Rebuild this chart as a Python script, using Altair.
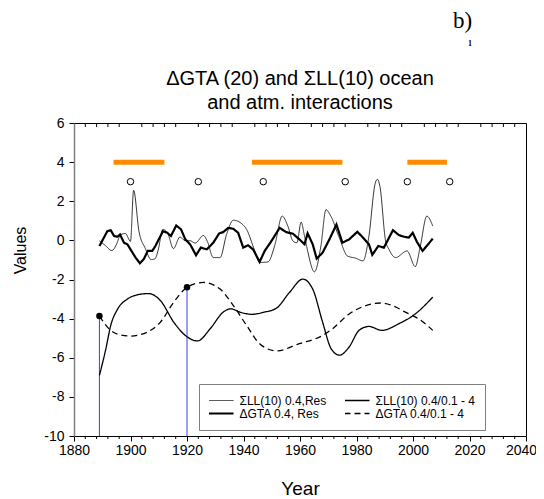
import altair as alt
import pandas as pd

FONT = "Liberation Sans"

# ---- series names (legend order: columns are filled top to bottom) ----
S_THIN = "ΣLL(10) 0.4,Res"
S_SMOOTH = "ΣLL(10) 0.4/0.1 - 4"
S_THICK = "ΔGTA 0.4, Res"
S_DASH = "ΔGTA 0.4/0.1 - 4"
SERIES = [S_THIN, S_THICK, S_SMOOTH, S_DASH]
DASHES = [[1, 0], [1, 0], [1, 0], [6, 4]]

TITLE_LINES = ["ΔGTA (20) and ΣLL(10) ocean", "and atm. interactions"]
PANEL_LABEL = "b)"

# ---- ΔGTA 0.4, Res (thick noisy line) ----
gta_res_years = [1889, 1891.8, 1893, 1894.2, 1895.4, 1896.3, 1897.7, 1898.9, 1900, 1901.8,
                 1903.3, 1904.7, 1906.1, 1907.7, 1908.8, 1910, 1911.5, 1913, 1914.3, 1916.2,
                 1917.9, 1919.4, 1921.1, 1923.2, 1924.9, 1927, 1929.3, 1931.4, 1932.8, 1934.6,
                 1936.4, 1938.1, 1939.9, 1941.6, 1943.4, 1945.7, 1947.5, 1949.9, 1952.8, 1955.1,
                 1957.5, 1959.8, 1961.6, 1962.7, 1964.5, 1965.9, 1968, 1970.4, 1972.9, 1975,
                 1977.4, 1980.3, 1982.3, 1984.4, 1985.6, 1987.7, 1989.7, 1992.9, 1995, 1996.7,
                 1998.5, 1999.9, 2001.4, 2003.4, 2007]
gta_res_values = [-0.29, 0.47, 0.52, 0.22, 0.19, 0.3, -0.12, -0.2, -0.46, -0.88,
                  -1.17, -0.96, -0.54, -0.54, -0.29, 0.05, 0.47, 0.39, 0.22, 0.76,
                  0.56, 0.05, -0.2, -0.76, -0.37, -0.46, -0.12, 0.36, 0.42, 0.64,
                  0.59, 0.39, -0.37, -0.25, -0.46, -1.1, -0.54, -0.03, 0.64, 0.42,
                  0.34, 0.05, -0.2, 0.36, -0.2, -0.93, -0.63, 0.05, 0.81, -0.12,
                  0.05, 0.44, 0.14, -0.2, -0.74, -0.29, -0.37, 0.52, 0.27, 0.19,
                  0.14, 0.39, -0.08, -0.54, 0.09]

# ---- ΣLL(10) 0.4,Res (thin noisy line) ----
ll_res_years = [1889, 1891, 1893.4, 1895.2, 1896.4, 1898.2, 1900, 1901.1, 1903, 1905.2,
                1907.3, 1908.6, 1909.8, 1911.4, 1913.2, 1915.2, 1917.5, 1919.4, 1921.1, 1922.9,
                1925.8, 1927.2, 1929.3, 1931.7, 1934, 1936.4, 1939.3, 1941.1, 1944, 1945.7,
                1948.7, 1951, 1953.7, 1955.7, 1957.5, 1958.9, 1960.4, 1961.6, 1962.7, 1965.1,
                1967.4, 1969.2, 1970.9, 1973.9, 1976.8, 1979.7, 1982.3, 1984.4, 1986.6, 1987.4,
                1988.3, 1990.3, 1991.5, 1993.8, 1997.9, 2000.8, 2002.6, 2004.9, 2007]
ll_res_values = [-0.03, -0.25, -0.52, -0.15, 0.28, 0.35, -0.05, 2.56, 0.46, -0.4,
                 -0.98, -0.95, -0.5, 0.56, 0.35, -0.42, 0.17, -0.02, -0.02, -0.14,
                 0.25, -0.05, -0.88, -0.88, 0.3, 1.03, 0.86, 0.56, -0.54, -1.13,
                 -1.1, -0.29, 1.24, 0.73, -0.03, -0.12, 0.93, 0.22, -0.54, -1.61,
                 -0.29, 1.57, 1.24, 0.14, -0.8, -0.91, -1.05, 0.22, 2.9, 3.12,
                 2.75, -0.03, -0.46, -0.88, -0.54, -1.34, -0.29, 1.24, 0.73]

# ---- ΣLL(10) 0.4/0.1 - 4 (smooth solid) ----
ll_smooth_years = [1889, 1891.3, 1893, 1895.5, 1898.9, 1902.5, 1906.4, 1910.6, 1915.3, 1919.4,
                   1923.7, 1928.2, 1932.8, 1935.5, 1939, 1943, 1947, 1951.6, 1956.3, 1961,
                   1964.5, 1968, 1971, 1974, 1977.4, 1980.9, 1984.4, 1989, 1995, 2000.8, 2007]
ll_smooth_values = [-6.9, -5.53, -4.35, -3.5, -3.0, -2.78, -2.72, -3.08, -4.18, -4.86,
                    -5.14, -4.52, -3.67, -3.5, -3.68, -3.78, -3.68, -3.47, -2.66, -1.98,
                    -2.49, -4.18, -5.53, -5.87, -5.45, -4.6, -4.4, -4.6, -4.26, -3.76, -2.9]

# ---- ΔGTA 0.4/0.1 - 4 (smooth dashed) ----
gta_smooth_years = [1889, 1893, 1896, 1900, 1905.9, 1910.6, 1915.3, 1920, 1925.8, 1931.7,
                    1936.4, 1941.1, 1945.7, 1951.6, 1959.8, 1968, 1971.5, 1977.4, 1983, 1988.5,
                    1993, 1997.3, 2002, 2007]
gta_smooth_values = [-3.87, -4.6, -4.82, -4.89, -4.69, -4.18, -3.16, -2.4, -2.15, -2.49,
                     -3.33, -4.35, -5.28, -5.65, -5.28, -4.86, -4.52, -3.76, -3.35, -3.2,
                     -3.35, -3.67, -4.01, -4.6]

# ---- markers ----
marker_years = [1889, 1920]
marker_values = [-3.87, -2.4]
axis_floor = [-10, -10]

period_start = [1894, 1943, 1998]
period_end = [1912, 1975, 2012]
period_level = [4, 4, 4]

circle_years = [1900, 1924, 1947, 1976, 1998, 2013]
circle_level = [3.0] * 6

x_major = list(range(1880, 2041, 20))
x_minor = [y for y in range(1884, 2040, 4) if y % 20]
y_major = list(range(-10, 7, 2))

W, H = 452, 313

xs = alt.Scale(domain=[1880, 2040], nice=False, zero=False)
ys = alt.Scale(domain=[-10, 6], nice=False, zero=False)

WIDTH_EXPR = ("datum.value === '" + S_THICK + "' ? 2.2 : (datum.value === '" + S_THIN
              + "' ? 0.8 : 1.3)")


def make_chart(fancy=True):
    x_kw = dict(values=x_major, title="Year", labelExpr="datum.value + ''",
                tickSize=5, labelPadding=2, titlePadding=22, labelFlush=False,
                labelOverlap=False, grid=False, domainColor="black", tickColor="black",
                labelColor="black", titleColor="black", labelFont=FONT, titleFont=FONT,
                labelFontSize=14, titleFontSize=19, titleFontWeight="normal")
    if fancy:
        x_kw["labelOffset"] = {"condition": {"test": "datum.value === 2040", "value": -5},
                               "value": 0}
    x_axis = alt.Axis(**x_kw)
    y_axis = alt.Axis(values=y_major, title="Values", labelExpr="datum.value + ''",
                      tickSize=5, labelPadding=5, grid=False, domainColor="#808080",
                      domainWidth=1.5, tickColor="black", labelColor="black",
                      titleColor="black", labelFont=FONT, titleFont=FONT, labelFontSize=14,
                      titleFontSize=16, titleFontWeight="normal", titleX=-54, titleY=127,
                      titleBaseline="middle")

    leg_kw = dict(title=None, orient="none", legendX=125, legendY=261, columns=2,
                  columnPadding=18, rowPadding=0, padding=10, clipHeight=13,
                  strokeColor="#808080", fillColor="white", symbolType="stroke",
                  symbolSize=625, symbolOffset=6, symbolStrokeColor="black", labelFont=FONT,
                  labelFontSize=12, labelColor="black", labelOffset=12.5, labelLimit=300)
    leg_kw["symbolStrokeWidth"] = {"expr": WIDTH_EXPR} if fancy else 1.4
    legend = alt.Legend(**leg_kw)

    def dash():
        return alt.StrokeDash("series:N", scale=alt.Scale(domain=SERIES, range=DASHES),
                              legend=legend)

    def X(f):
        return alt.X(f, scale=xs, axis=x_axis)

    def Y(f):
        return alt.Y(f, scale=ys, axis=y_axis)

    df_thick = pd.DataFrame({"year": gta_res_years, "value": gta_res_values, "series": S_THICK})
    df_thin = pd.DataFrame({"year": ll_res_years, "value": ll_res_values, "series": S_THIN})
    df_smooth = pd.concat([
        pd.DataFrame({"year": ll_smooth_years, "value": ll_smooth_values, "series": S_SMOOTH}),
        pd.DataFrame({"year": gta_smooth_years, "value": gta_smooth_values, "series": S_DASH}),
    ])

    thick = alt.Chart(df_thick).mark_line(color="black", interpolate="linear").encode(
        x=X("year:Q"), y=Y("value:Q"), strokeDash=dash(), strokeWidth=alt.value(2.2),
    )
    thin = alt.Chart(df_thin).mark_line(color="black", interpolate="monotone").encode(
        x=X("year:Q"), y=Y("value:Q"), strokeDash=dash(), strokeWidth=alt.value(0.8),
    )
    smooth = alt.Chart(df_smooth).mark_line(color="black", interpolate="monotone").encode(
        x=X("year:Q"), y=Y("value:Q"), detail="series:N", strokeDash=dash(),
        strokeWidth=alt.value(1.3),
    )

    df_mark = pd.DataFrame({"year": marker_years, "value": marker_values, "floor": axis_floor})
    blue = alt.Chart(df_mark).mark_rule(color="#3b3bff", strokeWidth=1).encode(
        x=X("year:Q"), y=Y("floor:Q"), y2="value:Q")
    dots = alt.Chart(df_mark).mark_point(filled=True, color="black", size=42, opacity=1).encode(
        x=X("year:Q"), y=Y("value:Q"))

    df_per = pd.DataFrame({"start": period_start, "end": period_end, "level": period_level})
    periods = alt.Chart(df_per).mark_rule(color="#ff8c00", strokeWidth=5, strokeCap="butt").encode(
        x=X("start:Q"), x2="end:Q", y=Y("level:Q"))

    df_circ = pd.DataFrame({"year": circle_years, "level": circle_level})
    circles = alt.Chart(df_circ).mark_point(shape="circle", filled=False, color="black",
                                            size=42, strokeWidth=1, opacity=1).encode(
        x=X("year:Q"), y=Y("level:Q"))

    top_ticks = alt.Chart(pd.DataFrame({"year": x_minor})).mark_rule(
        color="black", strokeWidth=1).encode(x=X("year:Q"), y=alt.value(0), y2=alt.value(4))
    bot_ticks = alt.Chart(pd.DataFrame({"year": x_minor})).mark_rule(
        color="black", strokeWidth=1).encode(x=X("year:Q"), y=alt.value(H), y2=alt.value(H + 3))

    title_txt = alt.Chart(pd.DataFrame({"k": [0]})).mark_text(
        font=FONT, fontSize=20, align="center", baseline="alphabetic", color="black",
        lineHeight=24
    ).encode(text=alt.value(TITLE_LINES), x=alt.value(W / 2), y=alt.value(-38))
    lab_b = alt.Chart(pd.DataFrame({"t": [PANEL_LABEL]})).mark_text(
        font="Liberation Serif", fontSize=23, align="left", baseline="alphabetic", color="black"
    ).encode(text="t:N", x=alt.value(379), y=alt.value(-95))
    lab_1 = alt.Chart(pd.DataFrame({"t": ["1"]})).mark_text(
        font="Liberation Serif", fontSize=8, fontWeight="bold", align="center",
        baseline="alphabetic", color="black"
    ).encode(text="t:N", x=alt.value(396), y=alt.value(-77))

    return alt.layer(top_ticks, bot_ticks, periods, circles, blue, smooth, thin, thick, dots,
                     title_txt, lab_b, lab_1).properties(
        width=W, height=H,
        padding={"left": 66, "top": 115, "right": 10, "bottom": 63},
        autosize=alt.AutoSizeParams(type="none"),
        background="white",
    ).configure_view(stroke="black", strokeWidth=1)


chart = make_chart(True)
try:
    chart.to_dict()
except Exception:
    chart = make_chart(False)

chart.save("out.html", embed_options={"renderer": "svg", "actions": False})
